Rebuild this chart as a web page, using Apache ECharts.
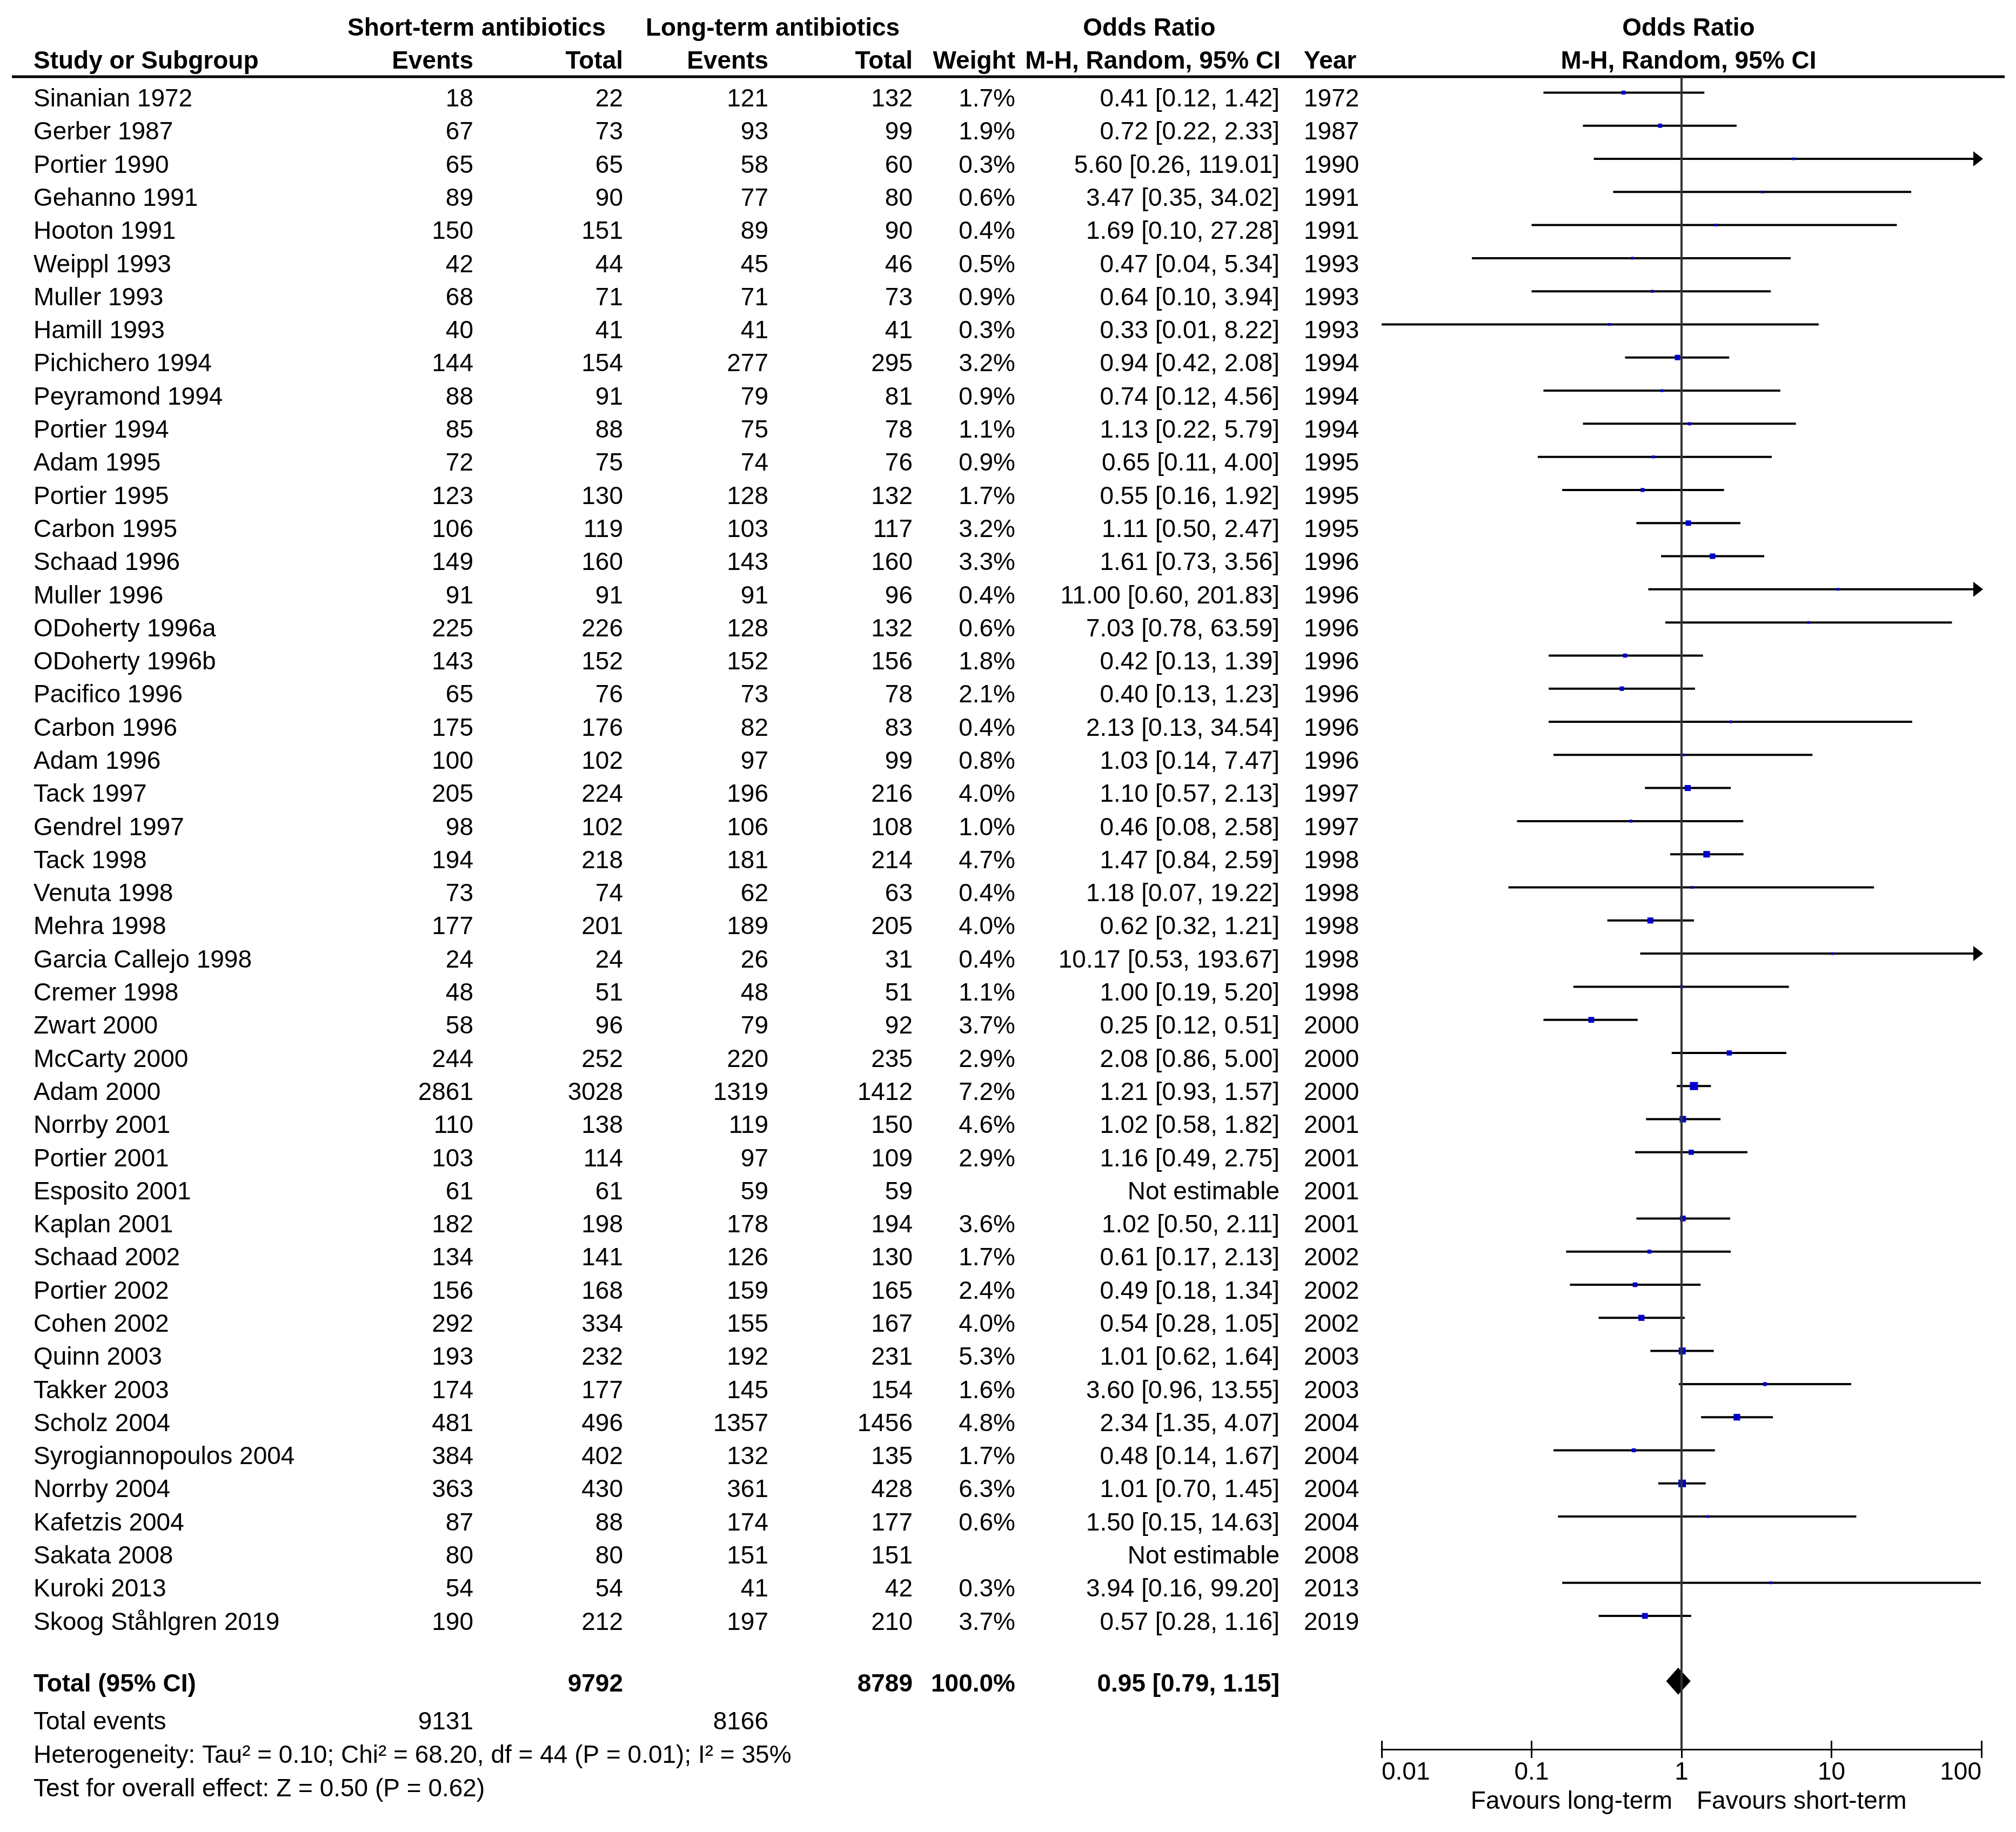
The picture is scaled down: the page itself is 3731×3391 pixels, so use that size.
<!DOCTYPE html>
<html><head><meta charset="utf-8">
<script src="https://cdn.jsdelivr.net/npm/echarts@6/dist/echarts.min.js"></script>
<style>html,body{margin:0;padding:0;background:#fff}#c{width:3731px;height:3391px}</style>
</head><body><div id="c"></div>
<script>
// ---------------- DATA ----------------
const studies = ['Sinanian 1972','Gerber 1987','Portier 1990','Gehanno 1991','Hooton 1991','Weippl 1993','Muller 1993','Hamill 1993','Pichichero 1994','Peyramond 1994','Portier 1994','Adam 1995','Portier 1995','Carbon 1995','Schaad 1996','Muller 1996','ODoherty 1996a','ODoherty 1996b','Pacifico 1996','Carbon 1996','Adam 1996','Tack 1997','Gendrel 1997','Tack 1998','Venuta 1998','Mehra 1998','Garcia Callejo 1998','Cremer 1998','Zwart 2000','McCarty 2000','Adam 2000','Norrby 2001','Portier 2001','Esposito 2001','Kaplan 2001','Schaad 2002','Portier 2002','Cohen 2002','Quinn 2003','Takker 2003','Scholz 2004','Syrogiannopoulos 2004','Norrby 2004','Kafetzis 2004','Sakata 2008','Kuroki 2013','Skoog Ståhlgren 2019'];
const shortEvents = [18,67,65,89,150,42,68,40,144,88,85,72,123,106,149,91,225,143,65,175,100,205,98,194,73,177,24,48,58,244,2861,110,103,61,182,134,156,292,193,174,481,384,363,87,80,54,190];
const shortTotal  = [22,73,65,90,151,44,71,41,154,91,88,75,130,119,160,91,226,152,76,176,102,224,102,218,74,201,24,51,96,252,3028,138,114,61,198,141,168,334,232,177,496,402,430,88,80,54,212];
const longEvents  = [121,93,58,77,89,45,71,41,277,79,75,74,128,103,143,91,128,152,73,82,97,196,106,181,62,189,26,48,79,220,1319,119,97,59,178,126,159,155,192,145,1357,132,361,174,151,41,197];
const longTotal   = [132,99,60,80,90,46,73,41,295,81,78,76,132,117,160,96,132,156,78,83,99,216,108,214,63,205,31,51,92,235,1412,150,109,59,194,130,165,167,231,154,1456,135,428,177,151,42,210];
const weights     = [1.7,1.9,0.3,0.6,0.4,0.5,0.9,0.3,3.2,0.9,1.1,0.9,1.7,3.2,3.3,0.4,0.6,1.8,2.1,0.4,0.8,4.0,1.0,4.7,0.4,4.0,0.4,1.1,3.7,2.9,7.2,4.6,2.9,null,3.6,1.7,2.4,4.0,5.3,1.6,4.8,1.7,6.3,0.6,null,0.3,3.7];
const oddsRatio   = [0.41,0.72,5.60,3.47,1.69,0.47,0.64,0.33,0.94,0.74,1.13,0.65,0.55,1.11,1.61,11.00,7.03,0.42,0.40,2.13,1.03,1.10,0.46,1.47,1.18,0.62,10.17,1.00,0.25,2.08,1.21,1.02,1.16,null,1.02,0.61,0.49,0.54,1.01,3.60,2.34,0.48,1.01,1.50,null,3.94,0.57];
const ciLower     = [0.12,0.22,0.26,0.35,0.10,0.04,0.10,0.01,0.42,0.12,0.22,0.11,0.16,0.50,0.73,0.60,0.78,0.13,0.13,0.13,0.14,0.57,0.08,0.84,0.07,0.32,0.53,0.19,0.12,0.86,0.93,0.58,0.49,null,0.50,0.17,0.18,0.28,0.62,0.96,1.35,0.14,0.70,0.15,null,0.16,0.28];
const ciUpper     = [1.42,2.33,119.01,34.02,27.28,5.34,3.94,8.22,2.08,4.56,5.79,4.00,1.92,2.47,3.56,201.83,63.59,1.39,1.23,34.54,7.47,2.13,2.58,2.59,19.22,1.21,193.67,5.20,0.51,5.00,1.57,1.82,2.75,null,2.11,2.13,1.34,1.05,1.64,13.55,4.07,1.67,1.45,14.63,null,99.20,1.16];
const years       = [1972,1987,1990,1991,1991,1993,1993,1993,1994,1994,1994,1995,1995,1995,1996,1996,1996,1996,1996,1996,1996,1997,1997,1998,1998,1998,1998,1998,2000,2000,2000,2001,2001,2001,2001,2002,2002,2002,2003,2003,2004,2004,2004,2004,2008,2013,2019];
const totalShort = 9792, totalLong = 8789, totalWeight = 100.0;
const totalOR = 0.95, totalLower = 0.79, totalUpper = 1.15;
const eventsShort = 9131, eventsLong = 8166;
const heterogeneityText = 'Heterogeneity: Tau² = 0.10; Chi² = 68.20, df = 44 (P = 0.01); I² = 35%';
const overallEffectText = 'Test for overall effect: Z = 0.50 (P = 0.62)';
const tickLabels = ['0.01','0.1','1','10','100'];
const tickValues = [0.01,0.1,1,10,100];

// ---------------- LAYOUT / STYLE ----------------
const FF = "'Liberation Sans', Arial, sans-serif";
const FONT = "46px " + FF;
const BFONT = "bold 46px " + FF;
const X_MIN = 0.01, X_MAX = 100;
const TOTAL_ROW = 47.97;
const TEXT_DY = 13;
const cols = [
  {x: 62,   align: 'left'},
  {x: 876,  align: 'right'},
  {x: 1153, align: 'right'},
  {x: 1422, align: 'right'},
  {x: 1689, align: 'right'},
  {x: 1879, align: 'right'},
  {x: 2368, align: 'right'},
  {x: 2413, align: 'left'}
];
const f2 = v => v.toFixed(2);

function txt(x, y, text, align, font) {
  return {type: 'text', x: x, y: y, silent: true,
    style: {text: text, fill: '#000', font: font || FONT, textAlign: align, textVerticalAlign: 'middle'}};
}

const chart = echarts.init(document.getElementById('c'), null, {renderer: 'canvas'});

const forestData = [];
studies.forEach((s, i) => {
  if (oddsRatio[i] != null) forestData.push([oddsRatio[i], i, ciLower[i], ciUpper[i], weights[i]]);
});

function renderForest(params, api) {
  const or = api.value(0), row = api.value(1), lo = api.value(2), hi = api.value(3), w = api.value(4);
  const a = api.coord([Math.max(lo, X_MIN), row]);
  const b = api.coord([Math.min(hi, X_MAX), row]);
  const c = api.coord([or, row]);
  const side = Math.max(5, 5.6 * Math.sqrt(w));
  const children = [
    {type: 'line', shape: {x1: a[0], y1: a[1], x2: b[0], y2: b[1]}, style: {stroke: '#000', lineWidth: 4}},
    {type: 'rect', shape: {x: c[0] - side / 2, y: c[1] - side / 2, width: side, height: side}, style: {fill: '#0000CC'}}
  ];
  if (hi > X_MAX) {
    children.push({type: 'polygon', shape: {points: [[b[0] + 3, b[1]], [b[0] - 15, b[1] - 14], [b[0] - 15, b[1] + 14]]}, style: {fill: '#000'}});
  }
  return {type: 'group', children: children};
}

function renderDiamond(params, api) {
  const row = api.value(1);
  const l = api.coord([api.value(2), row]);
  const r = api.coord([api.value(3), row]);
  const c = api.coord([api.value(0), row]);
  return {type: 'polygon', shape: {points: [[l[0], c[1]], [c[0], c[1] - 25], [r[0], c[1]], [c[0], c[1] + 25]]}, style: {fill: '#000'}};
}

function renderRow(params, api) {
  const i = api.value(1);
  const y = api.coord([1, i])[1] + TEXT_DY;
  const ci = oddsRatio[i] == null ? 'Not estimable' : f2(oddsRatio[i]) + ' [' + f2(ciLower[i]) + ', ' + f2(ciUpper[i]) + ']';
  const vals = [studies[i], String(shortEvents[i]), String(shortTotal[i]), String(longEvents[i]), String(longTotal[i]),
    weights[i] == null ? '' : weights[i].toFixed(1) + '%', ci, String(years[i])];
  return {type: 'group', children: vals.map((v, k) => txt(cols[k].x, y, v, cols[k].align))};
}

function renderTotal(params, api) {
  const y = api.coord([1, api.value(1)])[1] + 7;
  const vals = ['Total (95% CI)', '', String(totalShort), '', String(totalLong), totalWeight.toFixed(1) + '%',
    f2(totalOR) + ' [' + f2(totalLower) + ', ' + f2(totalUpper) + ']', ''];
  return {type: 'group', children: vals.map((v, k) => txt(cols[k].x, y, v, cols[k].align, BFONT))};
}

const axisCommon = {
  type: 'log', logBase: 10, min: X_MIN, max: X_MAX, gridIndex: 0, position: 'bottom', offset: 0,
  splitLine: {show: false}, minorTick: {show: false}
};

chart.setOption({
  animation: false,
  backgroundColor: '#fff',
  grid: [{left: 2557, width: 1110, top: 142, height: 3096, containLabel: false}],
  xAxis: [
    Object.assign({}, axisCommon, {
      axisLine: {show: true, onZero: false, lineStyle: {color: '#000', width: 3}},
      axisTick: {show: true, inside: false, length: 16, lineStyle: {color: '#000', width: 3}},
      axisLabel: {show: true, margin: 20, color: '#000', fontSize: 46, fontFamily: FF, showMinLabel: true, showMaxLabel: true,
        alignMinLabel: 'left', alignMaxLabel: 'right',
        formatter: v => { const k = tickValues.findIndex(t => Math.abs(Math.log10(t) - Math.log10(v)) < 1e-6); return k >= 0 ? tickLabels[k] : ''; }}
    }),
    Object.assign({}, axisCommon, {
      axisLine: {show: false, onZero: false},
      axisTick: {show: true, inside: true, length: 16, lineStyle: {color: '#000', width: 3}},
      axisLabel: {show: false}
    })
  ],
  yAxis: [{type: 'value', inverse: true, min: -0.48, max: 50.03, gridIndex: 0, show: false}],
  graphic: [
    {type: 'line', silent: true, shape: {x1: 22, y1: 142, x2: 3710, y2: 142}, style: {stroke: '#000', lineWidth: 5}},
    txt(882, 53, 'Short-term antibiotics', 'center', BFONT),
    txt(1430, 53, 'Long-term antibiotics', 'center', BFONT),
    txt(2127, 53, 'Odds Ratio', 'center', BFONT),
    txt(3125, 53, 'Odds Ratio', 'center', BFONT),
    txt(62, 114, 'Study or Subgroup', 'left', BFONT),
    txt(876, 114, 'Events', 'right', BFONT),
    txt(1153, 114, 'Total', 'right', BFONT),
    txt(1422, 114, 'Events', 'right', BFONT),
    txt(1689, 114, 'Total', 'right', BFONT),
    txt(1879, 114, 'Weight', 'right', BFONT),
    txt(2370, 114, 'M-H, Random, 95% CI', 'right', BFONT),
    txt(2413, 114, 'Year', 'left', BFONT),
    txt(3125, 114, 'M-H, Random, 95% CI', 'center', BFONT),
    txt(62, 3188, 'Total events', 'left'),
    txt(876, 3188, String(eventsShort), 'right'),
    txt(1422, 3188, String(eventsLong), 'right'),
    txt(62, 3250, heterogeneityText, 'left'),
    txt(62, 3312, overallEffectText, 'left'),
    txt(3095, 3335, 'Favours long-term', 'right'),
    txt(3140, 3335, 'Favours short-term', 'left')
  ],
  series: [
    {type: 'line', xAxisIndex: 0, yAxisIndex: 0, data: [], z: 1, silent: true,
      markLine: {silent: true, symbol: ['none', 'none'], label: {show: false}, animation: false,
        lineStyle: {color: '#333', width: 4, type: 'solid'}, data: [{xAxis: 1}]}},
    {type: 'custom', xAxisIndex: 0, yAxisIndex: 0, z: 3, clip: false, silent: true, renderItem: renderForest, data: forestData},
    {type: 'custom', xAxisIndex: 0, yAxisIndex: 0, z: 3, clip: false, silent: true, renderItem: renderDiamond,
      data: [[totalOR, TOTAL_ROW, totalLower, totalUpper]]},
    {type: 'custom', xAxisIndex: 0, yAxisIndex: 0, z: 3, clip: false, silent: true, renderItem: renderRow,
      data: studies.map((s, i) => [1, i])},
    {type: 'custom', xAxisIndex: 0, yAxisIndex: 0, z: 3, clip: false, silent: true, renderItem: renderTotal,
      data: [[1, TOTAL_ROW]]}
  ]
});
</script>
</body></html>
